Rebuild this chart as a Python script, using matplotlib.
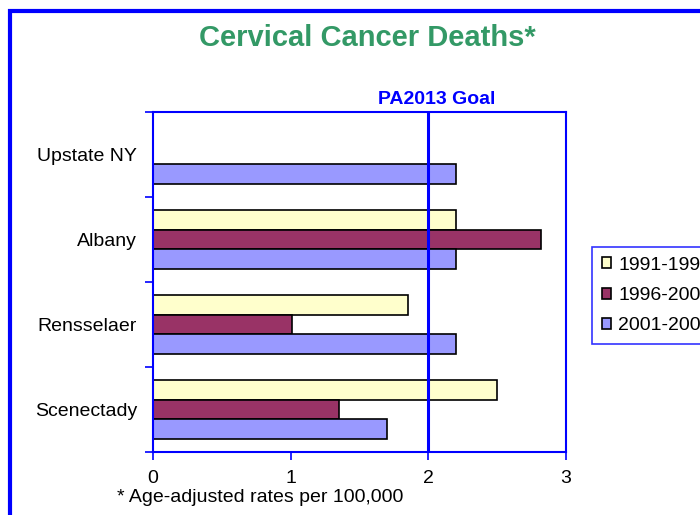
import matplotlib
matplotlib.use("Agg")
import matplotlib.pyplot as plt
from matplotlib.patches import Patch, Rectangle
import numpy as np

plt.rcParams['font.family'] = ['Liberation Sans', 'DejaVu Sans']

categories = ["Scenectady", "Rensselaer", "Albany", "Upstate NY"]
series_names = ["1991-1995", "1996-2000", "2001-2005"]
v_1991_1995 = [2.5, 1.85, 2.2, np.nan]
v_1996_2000 = [1.35, 1.01, 2.82, np.nan]
v_2001_2005 = [1.7, 2.2, 2.2, 2.2]
goal_value = 2.0
x_ticks = [0, 1, 2, 3]

colors = ["#FFFFCC", "#993366", "#9999FF"]
blue = "#0000FF"

fig = plt.figure(figsize=(7, 5.15), dpi=100)
ax = fig.add_axes([153/700, 1-452/515, 413/700, 340/515])

y = np.arange(len(categories))
h = 0.23
offsets = [h, 0, -h]
for vals, off, c, name in zip([v_1991_1995, v_1996_2000, v_2001_2005], offsets, colors, series_names):
    ax.barh(y + off, vals, height=h, color=c, edgecolor="black", linewidth=1.2, label=name)

ax.axvline(goal_value, color=blue, lw=2.2)
ax.text(goal_value + 0.06, 3.5 + 0.05, "PA2013 Goal", color=blue, fontsize=14, fontweight="bold",
        ha="center", va="bottom", transform=ax.transData)

ax.set_xlim(0, 3)
ax.set_ylim(-0.5, 3.5)
ax.set_xticks(x_ticks)
ax.set_xticklabels([str(t) for t in x_ticks], fontsize=14)
ax.tick_params(axis="x", direction="out", length=6, color=blue, width=1.2, pad=7)
ax.set_yticks(np.arange(-0.5, 4, 1))
ax.set_yticklabels([])
ax.tick_params(axis="y", which="major", direction="out", length=6, color=blue, width=1.2)
ax.set_yticks(y, minor=True)
ax.set_yticklabels(categories, minor=True, fontsize=14)
ax.tick_params(axis="y", which="minor", length=0, pad=11.5)
for s in ax.spines.values():
    s.set_color(blue)
    s.set_linewidth(1.5)

fig.text(367/700, 1-38/515, "Cervical Cancer Deaths*", color="#339966", fontsize=21,
         fontweight="bold", ha="center", va="center")
fig.text(117/700, 1-497/515, "* Age-adjusted rates per 100,000", fontsize=14, ha="left", va="center")

handles = [Patch(facecolor=c, edgecolor="black", linewidth=1.2) for c in colors]
leg = fig.legend(handles, series_names, loc="upper left", bbox_to_anchor=(592/700, 1-247/515),
                 bbox_transform=fig.transFigure, fontsize=14, fancybox=False, frameon=True,
                 handlelength=0.5, handleheight=0.5, handletextpad=0.35, labelspacing=0.68,
                 borderpad=0.5, borderaxespad=0)
leg.get_frame().set_edgecolor(blue)
leg.get_frame().set_linewidth(1.2)

fig.patches.append(Rectangle((10/700, -0.2), 1.5, 1.2 - 11/515, transform=fig.transFigure,
                             fill=False, edgecolor=blue, linewidth=3))

fig.savefig("out.png", dpi=100)
